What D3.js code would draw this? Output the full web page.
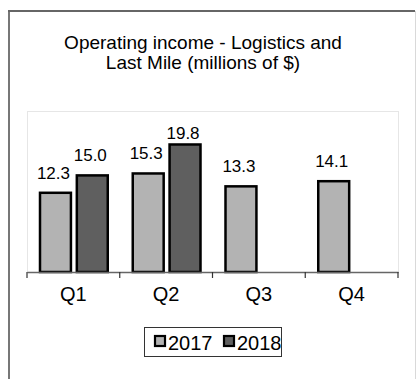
<!DOCTYPE html>
<html>
<head>
<meta charset="utf-8">
<script src="https://cdn.jsdelivr.net/npm/d3@7"></script>
<style>
  html, body { margin: 0; padding: 0; background: #fff; }
  svg { display: block; font-family: "Liberation Sans", Arial, sans-serif; }
</style>
</head>
<body>
<svg id="chart" width="416" height="379"></svg>
<script>
// Quarterly operating income, Logistics and Last Mile segment (millions of $)
const quarters = ["Q1", "Q2", "Q3", "Q4"];
const seriesNames = ["2017", "2018"];
const values2017 = [12.3, 15.3, 13.3, 14.1];
const values2018 = [15.0, 19.8, null, null];
const seriesColors = ["#b3b3b3", "#5f5f5f"];
const titleLines = ["Operating income - Logistics and", "Last Mile (millions of $)"];

const svg = d3.select("#chart");

// Outer frame
const frame = svg.append("g");
frame.append("line").attr("x1", 9).attr("y1", 11).attr("x2", 9).attr("y2", 379)
  .attr("stroke", "#777").attr("stroke-width", 2);
frame.append("line").attr("x1", 8).attr("y1", 11).attr("x2", 415).attr("y2", 11)
  .attr("stroke", "#666").attr("stroke-width", 2);
frame.append("line").attr("x1", 415.5).attr("y1", 11).attr("x2", 415.5).attr("y2", 379)
  .attr("stroke", "#d9d9d9").attr("stroke-width", 1);

// Title
svg.append("text")
  .attr("x", 203).attr("y", 49)
  .attr("text-anchor", "middle")
  .attr("font-size", 19)
  .attr("fill", "#000")
  .selectAll("tspan").data(titleLines).join("tspan")
  .attr("x", 203)
  .attr("dy", (d, i) => i === 0 ? 0 : 19.5)
  .text(d => d);

// Plot area
const plot = { left: 27, right: 398, top: 111, bottom: 272 };

svg.append("rect")
  .attr("x", plot.left + 0.5).attr("y", plot.top + 0.5)
  .attr("width", plot.right - plot.left).attr("height", plot.bottom - plot.top)
  .attr("fill", "none").attr("stroke", "#e6e6e6");

const x0 = d3.scaleBand().domain(quarters).range([plot.left, plot.right]).padding(0);
const x1 = d3.scaleBand().domain(seriesNames)
  .range([13, x0.bandwidth() - 12]).paddingInner(0.16);
const y = d3.scaleLinear().domain([0, 25]).range([plot.bottom, plot.top]);

const rows = quarters.map((q, i) => ({
  q,
  vals: [
    { s: seriesNames[0], v: values2017[i], c: seriesColors[0] },
    { s: seriesNames[1], v: values2018[i], c: seriesColors[1] }
  ].filter(d => d.v != null)
}));

const groups = svg.append("g").selectAll("g").data(rows).join("g")
  .attr("transform", d => `translate(${x0(d.q)},0)`);

groups.selectAll("rect").data(d => d.vals).join("rect")
  .attr("x", d => x1(d.s))
  .attr("y", d => y(d.v))
  .attr("width", x1.bandwidth())
  .attr("height", d => y(0) - y(d.v))
  .attr("fill", d => d.c)
  .attr("stroke", "#000")
  .attr("stroke-width", 2.5);

// Value labels sit above each bar, kept clear of the title block
groups.selectAll("text").data(d => d.vals).join("text")
  .attr("x", d => x1(d.s) + x1.bandwidth() / 2 - 2)
  .attr("y", d => Math.max(y(d.v) - 14, 139))
  .attr("text-anchor", "middle")
  .attr("font-size", 17)
  .attr("fill", "#000")
  .text(d => d.v.toFixed(1));

// Category axis
const axis = d3.axisBottom(x0).tickSize(0).tickPadding(15);
const gx = svg.append("g").attr("transform", `translate(0,${plot.bottom})`).call(axis);
gx.select(".domain").attr("stroke", "#666").attr("stroke-width", 1.5);
gx.selectAll(".tick text").attr("font-size", 20).attr("font-family", "Liberation Sans, Arial, sans-serif").attr("fill", "#000")
  .attr("dy", "0.71em");
// Tick marks at category boundaries
const boundaries = quarters.map(q => x0(q)).concat([plot.right]);
gx.selectAll(".bound").data(boundaries).join("line")
  .attr("class", "bound")
  .attr("x1", d => d).attr("x2", d => d)
  .attr("y1", 0).attr("y2", 6)
  .attr("stroke", "#333").attr("stroke-width", 1.2);

// Legend
const legend = svg.append("g");
legend.append("rect").attr("x", 144.5).attr("y", 327.5).attr("width", 137).attr("height", 29)
  .attr("fill", "#fff").attr("stroke", "#333").attr("stroke-width", 1);
const items = legend.selectAll("g.item").data(seriesNames).join("g").attr("class", "item")
  .attr("transform", (d, i) => `translate(${155 + i * 69},0)`);
items.append("rect").attr("x", 0).attr("y", 336).attr("width", 10).attr("height", 10)
  .attr("fill", (d, i) => seriesColors[i]).attr("stroke", "#000").attr("stroke-width", 2.2);
items.append("text").attr("x", 13).attr("y", 350)
  .attr("font-size", 20).attr("fill", "#000").text(d => d);
</script>
</body>
</html>
